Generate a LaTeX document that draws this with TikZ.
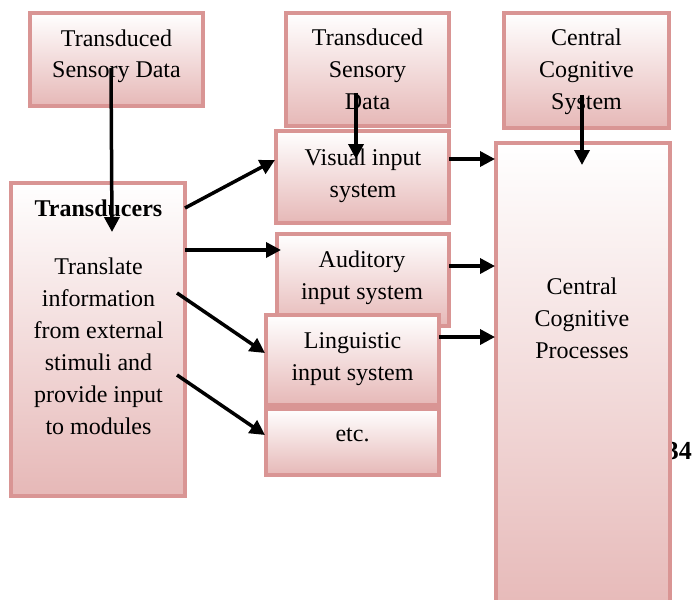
\documentclass[tikz,border=0pt]{standalone}
\usepackage{fontspec}
\setmainfont{Liberation Serif}
\usetikzlibrary{arrows.meta}
\definecolor{boxline}{RGB}{217,149,148}
\definecolor{boxfill}{RGB}{230,184,183}
\tikzset{
  box/.style={rectangle, draw=boxline, line width=4pt, top color=white, bottom color=boxfill, inner sep=0pt},
  txt/.style={align=center, anchor=base, inner sep=0pt, font=\fontsize{24}{32}\selectfont},
  conn/.style={line width=3.5pt, -{Triangle[length=15pt,width=15pt]}},
}
\begin{document}
\begin{tikzpicture}[x=1pt,y=-1pt]
\useasboundingbox (0,0) rectangle (692,599);
\clip (0,0) rectangle (692,599);
% boxes
\node[box, minimum width=173pt, minimum height=93pt] (tsd1) at (116.5,59.5) {};
\node[box, minimum width=163pt, minimum height=113pt] (tsd2) at (367.5,69.5) {};
\node[box, minimum width=165pt, minimum height=115pt] (ccs) at (586.5,70.5) {};
\node[box, minimum width=174pt, minimum height=313pt] (tr) at (98,339.5) {};
\node[box, minimum width=173pt, minimum height=92pt] (vis) at (362.5,177) {};
\node[box, minimum width=172pt, minimum height=92pt] (aud) at (363,280) {};
\node[box, minimum width=173pt, minimum height=90pt] (lin) at (352.5,360) {};
\node[box, minimum width=173pt, minimum height=66pt] (etc) at (352.5,442) {};
\node[anchor=base east, inner sep=0pt, font=\fontsize{26}{30}\selectfont\bfseries] (pg) at (692,459) {34};
\node[box, minimum width=174pt, minimum height=477pt] (ccp) at (583,381.5) {};
% texts (anchor = baseline of last line)
\node[txt] (t1) at (116.5,78) {Transduced\\Sensory Data};
\node[txt] (t2) at (367.5,110) {Transduced\\Sensory\\Data};
\node[txt] (t3) at (586.5,110) {Central\\Cognitive\\System};
\node[txt] (t4) at (363,197) {Visual input\\system};
\node[txt] (t5) at (362,299) {Auditory\\input system};
\node[txt] (t6) at (352.5,380) {Linguistic\\input system};
\node[txt] (t7) at (352.5,441) {etc.};
\node[txt, font=\fontsize{24}{32}\selectfont\bfseries] (t8) at (98.5,216) {Transducers};
\node[txt] (t9) at (98.5,434) {Translate\\information\\from external\\stimuli and\\provide input\\to modules};
\node[txt] (t10) at (582,358) {Central\\Cognitive\\Processes};
% connector ends
\coordinate (s1) at (111,68);   \coordinate (e1) at (112,232);
\coordinate (s2) at (356,93);   \coordinate (e2) at (356,159);
\coordinate (s3) at (582,95);   \coordinate (e3) at (582,165);
\coordinate (s4) at (185,208);  \coordinate (e4) at (275,160);
\coordinate (s5) at (185,250);  \coordinate (e5) at (281,250);
\coordinate (s6) at (177,293);  \coordinate (e6) at (265,353);
\coordinate (s7) at (177,375);  \coordinate (e7) at (265,435);
\coordinate (s8) at (449,159);  \coordinate (e8) at (495,159);
\coordinate (s9) at (449,266);  \coordinate (e9) at (495,266);
\coordinate (s10) at (439,337); \coordinate (e10) at (495,337);
\draw[conn] (s1) -- (e1);
\draw[conn] (s2) -- (e2);
\draw[conn] (s3) -- (e3);
\draw[conn] (s4) -- (e4);
\draw[conn] (s5) -- (e5);
\draw[conn] (s6) -- (e6);
\draw[conn] (s7) -- (e7);
\draw[conn] (s8) -- (e8);
\draw[conn] (s9) -- (e9);
\draw[conn] (s10) -- (e10);
\end{tikzpicture}
\end{document}
